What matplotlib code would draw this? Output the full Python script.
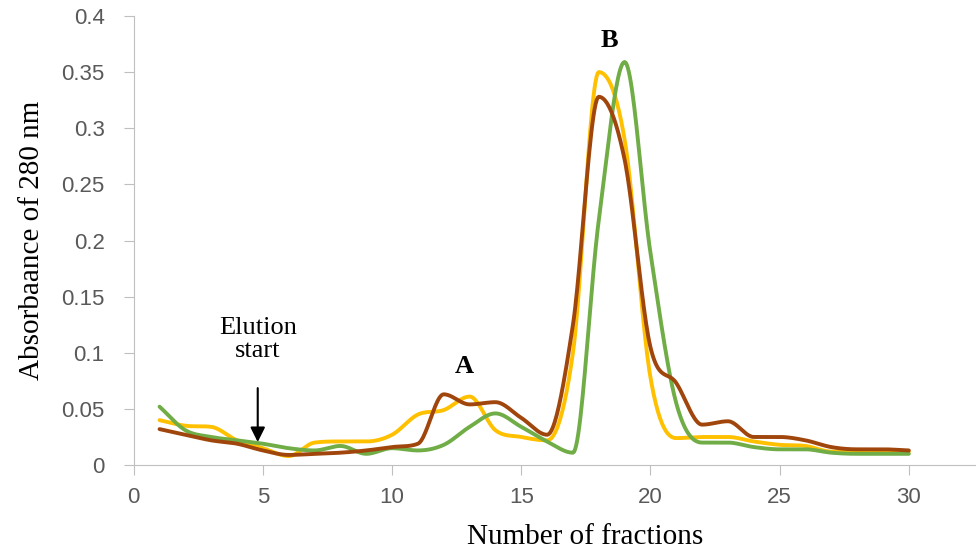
import numpy as np
import matplotlib
matplotlib.use('Agg')
import matplotlib.pyplot as plt

fractions = list(range(1, 31))
yellow = [0.040, 0.035, 0.034, 0.022, 0.015, 0.008, 0.020, 0.021, 0.021, 0.027,
          0.045, 0.049, 0.061, 0.031, 0.025, 0.022, 0.100, 0.350, 0.290, 0.078,
          0.024, 0.025, 0.025, 0.021, 0.018, 0.017, 0.012, 0.012, 0.012, 0.012]
green = [0.052, 0.031, 0.025, 0.022, 0.019, 0.015, 0.013, 0.017, 0.010, 0.015,
         0.013, 0.018, 0.034, 0.046, 0.034, 0.021, 0.011, 0.218, 0.359, 0.189,
         0.055, 0.020, 0.020, 0.016, 0.014, 0.014, 0.011, 0.010, 0.010, 0.010]
brown = [0.032, 0.027, 0.022, 0.019, 0.013, 0.009, 0.010, 0.011, 0.013, 0.016,
         0.019, 0.063, 0.054, 0.056, 0.042, 0.027, 0.125, 0.328, 0.272, 0.105,
         0.073, 0.036, 0.039, 0.025, 0.025, 0.022, 0.016, 0.014, 0.014, 0.013]


def smooth(x, y, n=24):
    # hermite curve through the points, tangents limited so it doesn't overshoot
    x = np.asarray(x, float)
    y = np.asarray(y, float)
    d = np.diff(y) / np.diff(x)
    m = np.zeros_like(y)
    m[0], m[-1] = d[0], d[-1]
    for i in range(1, len(y) - 1):
        if d[i - 1] * d[i] > 0:
            m[i] = (d[i - 1] + d[i]) / 2
            lim = 3 * min(abs(d[i - 1]), abs(d[i]))
            m[i] = np.sign(m[i]) * min(abs(m[i]), lim)
    xs, ys = [], []
    t = np.linspace(0, 1, n, endpoint=False)
    for i in range(len(x) - 1):
        h = x[i + 1] - x[i]
        h00 = 2 * t**3 - 3 * t**2 + 1
        h10 = t**3 - 2 * t**2 + t
        h01 = -2 * t**3 + 3 * t**2
        h11 = t**3 - t**2
        xs.extend(x[i] + t * h)
        ys.extend(h00 * y[i] + h10 * h * m[i] + h01 * y[i + 1] + h11 * h * m[i + 1])
    xs.append(x[-1])
    ys.append(y[-1])
    return xs, ys


serif = ['Liberation Serif', 'DejaVu Serif']
sans = ['Liberation Sans Narrow', 'Liberation Sans', 'DejaVu Sans']

fig = plt.figure(figsize=(9.76, 5.51), dpi=100)
ax = fig.add_axes([0.137, 0.156, 0.863, 0.815])

for vals, col in ((yellow, '#FFC000'), (green, '#70AD47'), (brown, '#A0460C')):
    sx, sy = smooth(fractions, vals)
    ax.plot(sx, sy, color=col, lw=2.8, solid_capstyle='round')

ax.set_xlim(0, 32.6)
ax.set_ylim(0, 0.4)
ax.set_xticks(range(0, 31, 5))
ax.set_yticks(np.arange(0, 0.401, 0.05))
ax.set_yticklabels(['0', '0.05', '0.1', '0.15', '0.2', '0.25', '0.3', '0.35', '0.4'])
for s in ('top', 'right'):
    ax.spines[s].set_visible(False)
for s in ('left', 'bottom'):
    ax.spines[s].set_color('#BFBFBF')
ax.tick_params(colors='#BFBFBF', labelcolor='#595959', length=7, labelsize=16)
ax.tick_params(axis='y', pad=14)
ax.tick_params(axis='x', pad=9)
for lab in ax.get_xticklabels() + ax.get_yticklabels():
    lab.set_family(sans)

ax.set_xlabel('Number of fractions', family=serif, fontsize=21)
ax.xaxis.label.set_va('baseline')
ax.xaxis.set_label_coords(0.536, -0.176)
ax.set_ylabel('Absorbaance of 280 nm', family=serif, fontsize=21, labelpad=12)

ax.text(4.8, 0.112, 'Elution\nstart', family=serif, fontsize=19, ha='center',
        va='center', linespacing=1.05)
ax.annotate('', xy=(4.8, 0.018), xytext=(4.8, 0.071),
            arrowprops=dict(arrowstyle='-|>', color='black', lw=1.5,
                            mutation_scale=22))
ax.text(12.8, 0.082, 'A', family=serif, fontsize=19, weight='bold', ha='center')
ax.text(18.4, 0.372, 'B', family=serif, fontsize=19, weight='bold', ha='center')

fig.savefig('out.png', dpi=100)
